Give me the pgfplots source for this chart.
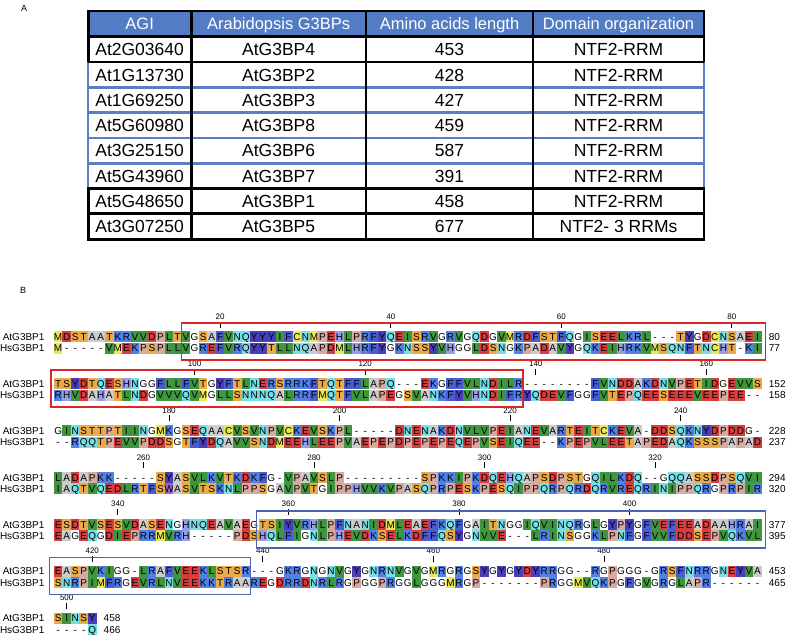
\documentclass[border=0pt]{standalone}
\usepackage{pgfplots}
\pgfplotsset{compat=1.18}
\usepackage{fontspec}
\setmainfont{Liberation Sans}
\newcommand\seqfont{\fontsize{10}{12}\selectfont}
\newcommand\tickfont{\fontsize{8}{10}\selectfont}
\newcommand\tabfont{\fontsize{17.5}{20}\selectfont}
\newcommand\headfont{\fontsize{16.5}{20}\selectfont}
\definecolor{resA}{RGB}{204,204,204}
\definecolor{resR}{RGB}{82,128,230}
\definecolor{resD}{RGB}{212,62,62}
\definecolor{resS}{RGB}{234,170,72}
\definecolor{resN}{RGB}{120,222,230}
\definecolor{resH}{RGB}{150,158,232}
\definecolor{resF}{RGB}{74,92,210}
\definecolor{resY}{RGB}{72,62,188}
\definecolor{resW}{RGB}{150,100,200}
\definecolor{resV}{RGB}{64,150,62}
\definecolor{resM}{RGB}{232,232,86}
\definecolor{resP}{RGB}{214,170,160}
\definecolor{boxred}{RGB}{218,40,40}
\definecolor{boxblue}{RGB}{80,100,170}
\definecolor{headblue}{RGB}{82,124,196}
\definecolor{lineblue}{RGB}{90,125,195}
\expandafter\def\csname rcA\endcsname{resA}
\expandafter\def\csname rcR\endcsname{resR}
\expandafter\def\csname rcK\endcsname{resR}
\expandafter\def\csname rcD\endcsname{resD}
\expandafter\def\csname rcE\endcsname{resD}
\expandafter\def\csname rcS\endcsname{resS}
\expandafter\def\csname rcT\endcsname{resS}
\expandafter\def\csname rcN\endcsname{resN}
\expandafter\def\csname rcQ\endcsname{resN}
\expandafter\def\csname rcH\endcsname{resH}
\expandafter\def\csname rcF\endcsname{resF}
\expandafter\def\csname rcY\endcsname{resY}
\expandafter\def\csname rcW\endcsname{resW}
\expandafter\def\csname rcV\endcsname{resV}
\expandafter\def\csname rcI\endcsname{resV}
\expandafter\def\csname rcL\endcsname{resV}
\expandafter\def\csname rcM\endcsname{resM}
\expandafter\def\csname rcC\endcsname{resM}
\expandafter\def\csname rcP\endcsname{resP}
\newcount\rc
\newcommand\drawres[1]{%
  \pgfmathsetmacro\xc{58+\the\rc*8.53}%
  \pgfmathsetmacro\xa{\xc-4.265}%
  \pgfmathsetmacro\xb{\xc+4.265}%
  \pgfmathsetmacro\ya{\rowy-5.5}%
  \pgfmathsetmacro\yb{\rowy+5.5}%
  \pgfmathsetmacro\yt{\rowy+3.6}%
  \ifcsname rc#1\endcsname
    \edef\thiscol{\csname rc#1\endcsname}%
    \fill[fill=\thiscol] (axis cs:\xa,\ya) rectangle (axis cs:\xb,\yb);%
  \fi
  \node[inner sep=0pt,anchor=base,font=\seqfont] at (axis cs:\xc,\yt) {#1};%
}
\def\resloop#1{\ifx#1\relax\else\drawres{#1}\global\advance\rc by 1 \expandafter\resloop\fi}
\newcommand\resrow[4]{% y, name, sequence, end number
  \global\rc=0
  \def\rowy{#1}%
  \pgfmathsetmacro\yt{#1+3.6}%
  \node[anchor=base east,inner sep=0pt,font=\seqfont] at (axis cs:44.5,\yt) {#2};
  \resloop#3\relax
  \pgfmathsetmacro\xe{58+\the\rc*8.53+2.735}%
  \pgfmathsetmacro\yt{#1+3.6}%
  \node[anchor=base west,inner sep=0pt,font=\seqfont] at (axis cs:\xe,\yt) {#4};
}
\newcommand\block[6]{% index, At seq, At num, Hs seq, Hs num, ticks
  \pgfmathsetmacro\aty{337+46.9*(#1-1)}%
  \pgfmathsetmacro\hsy{\aty+11.3}%
  \pgfmathsetmacro\ta{\aty-15.3}%
  \pgfmathsetmacro\tb{\aty-9.3}%
  \pgfmathsetmacro\tl{\aty-20.3}%
  \foreach \p in {#6} {%
    \pgfmathsetmacro\tx{58+(\p-83*(#1-1)-1)*8.53}%
    \draw[line width=0.8pt] (axis cs:\tx,\ta) -- (axis cs:\tx,\tb);
    \node[inner sep=0pt,font=\tickfont] at (axis cs:\tx,\tl) {\p};
  }
  \resrow{\aty}{AtG3BP1}{#2}{#3}%
  \resrow{\hsy}{HsG3BP1}{#4}{#5}%
}
\newcommand\seqbox[4]{% color, block index, x0, x1
  \pgfmathsetmacro\aty{337+46.9*(#2-1)}%
  \pgfmathsetmacro\ba{\aty-13.8}%
  \pgfmathsetmacro\bb{\aty+23.3}%
  \draw[#1,line width=1.6pt] (axis cs:#3,\ba) rectangle (axis cs:#4,\bb);
}
\begin{document}
\begin{tikzpicture}
\begin{axis}[x=1pt,y=1pt,y dir=reverse,xmin=0,xmax=790,ymin=0,ymax=640,
  hide axis,scale only axis,clip=false]
\pgfplotsextra{%
\path (axis cs:0,0) rectangle (axis cs:790,640);
% ---------- panel labels
\node[font=\fontsize{9}{10}\selectfont,inner sep=0pt] at (axis cs:24,8) {A};
\node[font=\fontsize{9}{10}\selectfont,inner sep=0pt] at (axis cs:23,290) {B};
% ---------- table
\fill[headblue] (axis cs:88,11) rectangle (axis cs:704,36.8);
\foreach \yy in {87.4,112.7,138,163.3}{\draw[lineblue,line width=2.5pt] (axis cs:88,\yy) -- (axis cs:704,\yy);}
\draw[lineblue,line width=2.5pt] (axis cs:88,62.1) -- (axis cs:88,188.6);
\draw[lineblue,line width=2.5pt] (axis cs:704,62.1) -- (axis cs:704,188.6);
\draw[black,line width=2.8pt] (axis cs:88,11) rectangle (axis cs:704,36.8);
\foreach \yy in {62.1,188.6,213.9}{\draw[black,line width=2.8pt] (axis cs:88,\yy) -- (axis cs:704,\yy);}
\draw[black,line width=2.8pt] (axis cs:88,36.8) -- (axis cs:88,62.1);
\draw[black,line width=2.8pt] (axis cs:704,36.8) -- (axis cs:704,62.1);
\draw[black,line width=2.8pt] (axis cs:88,188.6) rectangle (axis cs:704,239.2);
\foreach \xx in {191,366,533}{\draw[black,line width=2.8pt] (axis cs:\xx,11) -- (axis cs:\xx,239.2);}
\node[anchor=base,inner sep=0pt,font=\headfont,white] at (axis cs:139.5,29.8) {AGI};
\node[anchor=base,inner sep=0pt,font=\headfont,white] at (axis cs:278.5,29.8) {Arabidopsis G3BPs};
\node[anchor=base,inner sep=0pt,font=\headfont,white] at (axis cs:449.5,29.8) {Amino acids length};
\node[anchor=base,inner sep=0pt,font=\headfont,white] at (axis cs:618.5,29.8) {Domain organization};
\foreach \i/\a/\b/\c/\d in {0/At2G03640/AtG3BP4/453/NTF2-RRM,
  1/At1G13730/AtG3BP2/428/NTF2-RRM,
  2/At1G69250/AtG3BP3/427/NTF2-RRM,
  3/At5G60980/AtG3BP8/459/NTF2-RRM,
  4/At3G25150/AtG3BP6/587/NTF2-RRM,
  5/At5G43960/AtG3BP7/391/NTF2-RRM,
  6/At5G48650/AtG3BP1/458/NTF2-RRM,
  7/At3G07250/AtG3BP5/677/NTF2- 3 RRMs}{%
  \pgfmathsetmacro\ry{36.8+25.3*\i+12.65+6.3}%
  \node[anchor=base,inner sep=0pt,font=\tabfont] at (axis cs:139.5,\ry) {\a};
  \node[anchor=base,inner sep=0pt,font=\tabfont] at (axis cs:278.5,\ry) {\b};
  \node[anchor=base,inner sep=0pt,font=\tabfont] at (axis cs:449.5,\ry) {\c};
  \node[anchor=base,inner sep=0pt,font=\tabfont] at (axis cs:618.5,\ry) {\d};
}
% ---------- alignment
\block{1}{MDSTAATKRVVDPLTVGSAFVNQYYYIFCNMPEHLPRFYQEISRVGRVGQDGVMRDFSTFQGISEELKRL---TYGDCNSAEI}{80}%
  {M-----VMEKPSPLLVGREFVRQYYTLLNQAPDMLHRFYGKNSSYVHGGLDSNGKPADAVYGQKEIHRKVMSQNFTNCHT-KI}{77}{20,40,60,80}
\block{2}{TSYDTQESHNGGFLLFVTGYFTLNERSRRKFTQTFFLAPQ---EKGFFVLNDILR--------FVNDDAKDNVPETIDGEVVS}{152}%
  {RHVDAHATLNDGVVVQVMGLLSNNNQALRRFMQTFVLAPEGSVANKFYVHNDIFRYQDEVFGGFVTEPQEESEEEVEEPEE--}{158}{100,120,140,160}
\block{3}{GINSTTPTIINGMKGSEQAACVSVNPVCKEVSKPL-----DNENAKDNVLVPEIANEVARTEITCKEVA-DDSQKNYDPDDG-}{228}%
  {--RQQTPEVVPDDSGTFYDQAVVSNDMEEHLEEPVAEPEPDPEPEPEQEPVSEIQEE--KPEPVLEETAPEDAQKSSSPAPAD}{237}{180,200,220,240}
\block{4}{LADAPKK-----SYASVLKVTKDKFG-VPAVSLP---------SPKKIPKDQEHQAPSDPSTGQILKDQ--GQQASSDPSQVI}{294}%
  {IAQTVQEDLRTFSWASVTSKNLPPSGAVPVTGIPPHVVKVPASQPRPESKPESQIPPQRPQRDQRVREQRINIPPQRGPRPIR}{320}{260,280,300,320}
\block{5}{ESDTVSESVDASENGHNQEAVAEGTSIYVRHLPFNANIDMLEAEFKQFGAITNGGIQVINQRGLGYPYGFVEFEEADAAHRAI}{377}%
  {EAGEQGDIEPRRMVRH-----PDSHQLFIGNLPHEVDKSELKDFFQSYGNVVE---LRINSGGKLPNFGFVVFDDSEPVQKVL}{395}{340,360,380,400}
\block{6}{EASPVKIGG-LRAFVEEKLSTSR---GKRGNGNVGYGNRNVGVGMRGRGSYGYGYDYRRGG--RGPGGG-GRSFNRRGNEYVA}{453}%
  {SNRPIMFRGEVRLNVEEKKTRAAREGDRRDNRLRGPGGPRGGLGGGMRGP-------PRGGMVQKPGFGVGRGLAPR------}{465}{420,440,460,480}
\block{7}{SINSY}{458}{----Q}{466}{500}
\seqbox{boxred}{1}{181.5}{765.5}
\seqbox{boxred}{2}{50.7}{523}
\seqbox{boxblue}{5}{256.5}{765.5}
\seqbox{boxblue}{6}{49.5}{250.5}
}
\end{axis}
\end{tikzpicture}
\end{document}
